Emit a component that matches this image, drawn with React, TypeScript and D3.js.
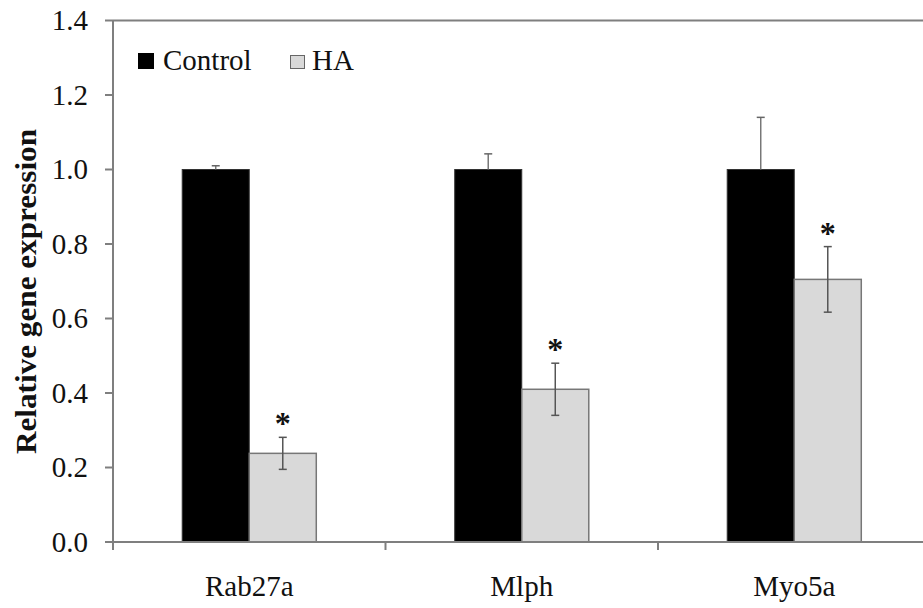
import * as d3 from "d3"

// Relative expression of melanosome-transport genes, control vs HA
const genes = ["Rab27a", "Mlph", "Myo5a"]
const controlValues = [1.0, 1.0, 1.0]
const controlErrors = [0.01, 0.042, 0.14]
const haValues = [0.238, 0.41, 0.705]
const haErrors = [0.043, 0.07, 0.088]
const significant = [true, true, true]
const yTicks = [0, 0.2, 0.4, 0.6, 0.8, 1.0, 1.2, 1.4]
const seriesNames = ["Control", "HA"]

const W = 923
const H = 608
const FONT = "'Liberation Serif', 'Times New Roman', serif"
const AXIS = "#7f7f7f"

export default function App() {
  const left = 113
  const step = 272.5
  const x = d3.scaleBand<string>()
    .domain(genes)
    .range([left, left + step * genes.length])
    .paddingInner(0.508)
    .paddingOuter(0.254)
  const xSub = d3.scaleBand<string>().domain(seriesNames).range([0, x.bandwidth()])
  const y = d3.scaleLinear().domain([0, 1.4]).range([542, 20.5])

  const barW = xSub.bandwidth()
  const capW = 8

  return (
    <svg width={W} height={H} style={{ position: "absolute", left: 0, top: 0, background: "#fff" }}
      fontFamily={FONT}>
      {/* top frame line at 1.4 */}
      <line x1={left} x2={W} y1={y(1.4)} y2={y(1.4)} stroke={AXIS} strokeWidth={2} />

      {/* bars */}
      {genes.map((g, i) => {
        const x0 = x(g)!
        const cx = x0 + xSub("Control")! + barW / 2
        const hx = x0 + xSub("HA")! + barW / 2
        return (
          <g key={g}>
            <rect x={x0 + xSub("Control")!} y={y(controlValues[i])} width={barW}
              height={y(0) - y(controlValues[i])} fill="#000" stroke="#333" strokeWidth={1} />
            <rect x={x0 + xSub("HA")!} y={y(haValues[i])} width={barW}
              height={y(0) - y(haValues[i])} fill="#d9d9d9" stroke="#777" strokeWidth={1.5} />
            {/* control error (upper only) */}
            <line x1={cx} x2={cx} y1={y(controlValues[i])} y2={y(controlValues[i] + controlErrors[i])}
              stroke="#777" strokeWidth={1.5} />
            <line x1={cx - capW / 2} x2={cx + capW / 2} y1={y(controlValues[i] + controlErrors[i])}
              y2={y(controlValues[i] + controlErrors[i])} stroke="#666" strokeWidth={1.5} />
            {/* HA error */}
            <line x1={hx} x2={hx} y1={y(haValues[i] - haErrors[i])} y2={y(haValues[i] + haErrors[i])}
              stroke="#555" strokeWidth={1.5} />
            {[-1, 1].map(s => (
              <line key={s} x1={hx - capW / 2} x2={hx + capW / 2}
                y1={y(haValues[i] + s * haErrors[i])} y2={y(haValues[i] + s * haErrors[i])}
                stroke="#555" strokeWidth={1.5} />
            ))}
            {significant[i] && (
              <text x={hx} y={y(haValues[i] + haErrors[i]) - 3} textAnchor="middle"
                fontSize={32} fontWeight="bold" fill="#111">*</text>
            )}
          </g>
        )
      })}

      {/* y axis */}
      <line x1={left} x2={left} y1={y(1.4)} y2={y(0)} stroke={AXIS} strokeWidth={2} />
      {yTicks.map(t => (
        <g key={t}>
          <line x1={left - 8} x2={left} y1={y(t)} y2={y(t)} stroke={AXIS} strokeWidth={2} />
          <text x={88} y={y(t)} dy="0.33em" textAnchor="end" fontSize={29} fill="#111">
            {t.toFixed(1)}
          </text>
        </g>
      ))}

      {/* x axis */}
      <line x1={left} x2={W} y1={y(0)} y2={y(0)} stroke={AXIS} strokeWidth={2} />
      {genes.map((g, i) => (
        <line key={g} x1={left + step * i} x2={left + step * i} y1={y(0)} y2={y(0) + 8}
          stroke={AXIS} strokeWidth={2} />
      ))}
      {genes.map(g => (
        <text key={g} x={x(g)! + x.bandwidth() / 2} y={596} textAnchor="middle" fontSize={29} fill="#111">
          {g}
        </text>
      ))}

      {/* y title */}
      <text transform={`translate(36,${(128 + 455) / 2}) rotate(-90)`} textAnchor="middle"
        fontSize={30} fontWeight="bold" fill="#111" textLength={325} lengthAdjust="spacingAndGlyphs">
        Relative gene expression
      </text>

      {/* legend */}
      <rect x={138} y={53} width={16} height={16} fill="#000" />
      <text x={163} y={70} fontSize={29} fill="#111">{seriesNames[0]}</text>
      <rect x={290.5} y={55.5} width={14} height={13} fill="#d9d9d9" stroke="#666" strokeWidth={1} />
      <text x={312} y={70} fontSize={29} fill="#111">{seriesNames[1]}</text>
    </svg>
  )
}
